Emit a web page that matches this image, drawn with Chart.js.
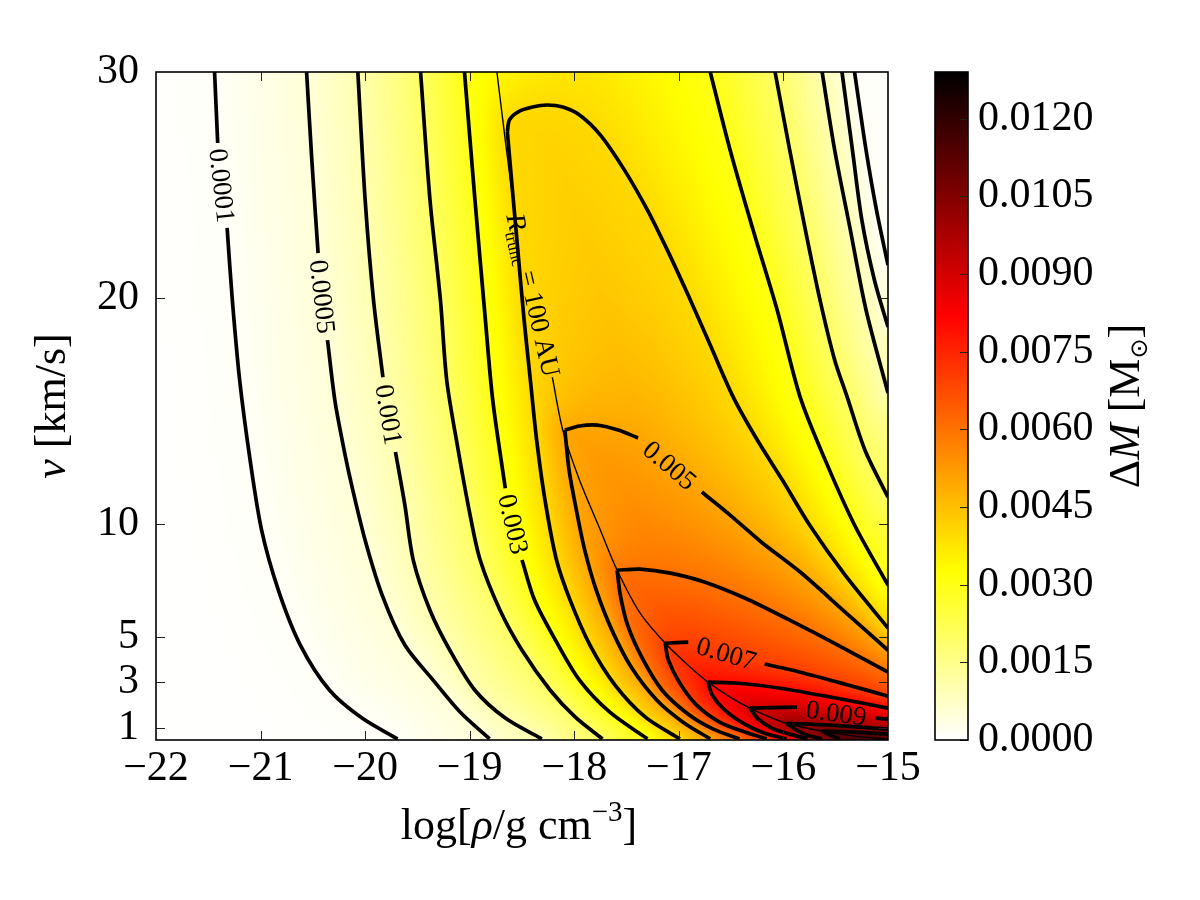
<!DOCTYPE html>
<html><head><meta charset="utf-8">
<script src="https://cdn.jsdelivr.net/npm/chart.js@4.4.1/dist/chart.umd.min.js"></script>
<style>
html,body{margin:0;padding:0;background:#fff;}
#wrap{position:relative;width:1200px;height:900px;}
#wrap canvas{position:absolute;left:0;top:0;}
</style>
</head><body>
<div id="wrap"><canvas id="main" width="1200" height="900"></canvas><canvas id="cbar" width="1200" height="900"></canvas></div>
<script>
// ---------- axis ranges and ticks ----------
const rhoMin = -22, rhoMax = -15;
const vMin = 0.45, vMax = 30;
const rhoTicks = [-22, -21, -20, -19, -18, -17, -16, -15];
const vTicks = [1, 3, 5, 10, 20, 30];
const dmMax = 0.0129;
const dmTicks = [0, 0.0015, 0.003, 0.0045, 0.006, 0.0075, 0.009, 0.0105, 0.012];

// ---------- contour levels (Delta M, solar masses) ----------
const levels = [0.0001, 0.0005, 0.001, 0.002, 0.003, 0.004, 0.005, 0.006, 0.007, 0.008, 0.009, 0.010, 0.011];
const levelText = ['0.0001', '0.0005', '0.001', '', '0.003', '', '0.005', '', '0.007', '', '0.009', '', ''];

// each contour: [log rho, v]; null = gap for inline label
// left branch (inside R_trunc) and right branch (outside R_trunc)
const c0001L = [[-21.44,30],[-21.41,26.86],null,[-21.32,23.10],[-21.27,19.91],[-21.20,16.37],[-21.10,12.83],[-20.99,9.73],[-20.83,7.08],[-20.62,4.65],[-20.34,2.65],[-20.03,1.42],[-19.69,0.5]];
const c0001R = [[-15.32,30],[-15.21,26.55],[-15.11,23.89],[-15.0,21.46]];
const c0005L = [[-20.56,30],[-20.51,26.11],[-20.45,21.99],null,[-20.36,18.14],[-20.29,15.49],[-20.22,13.72],[-20.14,11.95],[-20.00,9.29],[-19.83,6.77],[-19.62,4.65],[-19.35,3.10],[-19.09,1.68],[-18.81,0.5]];
const c0005R = [[-15.44,30],[-15.34,26.55],[-15.25,23.45],[-15.13,20.80],[-15.0,18.72]];
const c001L = [[-20.07,30],[-20.00,24.34],[-19.92,19.91],[-19.83,16.50],null,[-19.71,13.19],[-19.62,10.84],[-19.54,8.41],[-19.38,6.19],[-19.19,4.42],[-18.95,2.65],[-18.66,1.42],[-18.31,0.5]];
const c001R = [[-15.63,30],[-15.51,26.55],[-15.36,23.01],[-15.21,19.47],[-15.0,15.80]];
const c002L = [[-19.47,30],[-19.38,24.34],[-19.28,19.91],[-19.22,16.37],[-19.11,13.27],[-19.00,10.49],[-18.90,8.41],[-18.71,6.19],[-18.50,4.42],[-18.23,2.65],[-17.99,1.46],[-17.73,0.5]];
const c002R = [[-16.08,30],[-15.94,26.55],[-15.79,23.01],[-15.65,19.91],[-15.51,17.26],[-15.39,15.62],[-15.22,13.27],[-15.0,11.19]];
const c003L = [[-19.05,30],[-18.95,24.34],[-18.85,19.03],[-18.78,15.49],[-18.66,11.59],null,[-18.50,8.41],[-18.38,6.64],[-18.18,4.87],[-17.95,3.10],[-17.66,1.68],[-17.30,0.5]];
const c003R = [[-16.70,30],[-16.51,26.55],[-16.29,23.01],[-16.06,19.47],[-15.84,15.62],[-15.60,12.83],[-15.32,9.96],[-15.0,7.30]];
const c004L = [[-18.64,27.35],[-18.60,25.22],[-18.54,22.12],[-18.48,19.03],[-18.42,16.37],[-18.36,13.72],[-18.28,11.06],[-18.17,8.41],[-18.04,6.64],[-17.85,4.65],[-17.61,2.88],[-17.32,1.46],[-16.99,0.5]];
const c004R = [[-18.64,27.35],[-18.62,27.88],[-18.54,28.23],[-18.40,28.45],[-18.26,28.54],[-18.11,28.45],[-17.95,28.10],[-17.75,27.21],[-17.52,25.66],[-17.30,23.89],[-17.11,22.12],[-16.92,20.22],[-16.70,17.92],[-16.48,15.62],[-16.25,13.72],[-16.01,11.95],[-15.75,9.96],[-15.41,7.74],[-15.0,5.40]];
const c005L = [[-18.09,14.16],[-18.05,12.39],[-17.98,10.62],[-17.90,8.85],[-17.79,7.08],[-17.64,5.31],[-17.45,3.63],[-17.21,2.21],[-16.96,1.24],[-16.70,0.5]];
const c005R = [[-18.09,14.16],[-17.95,14.34],[-17.78,14.38],[-17.58,14.16],[-17.39,13.81],null,[-16.78,11.42],[-16.51,10.40],[-16.21,9.20],[-15.84,7.88],[-15.41,6.11],[-15.0,4.42]];
const c006L = [[-17.59,7.96],[-17.56,6.86],[-17.49,5.53],[-17.35,4.07],[-17.16,2.65],[-16.91,1.59],[-16.67,0.93],[-16.42,0.5]];
const c006R = [[-17.59,7.96],[-17.37,8.01],[-17.08,7.83],[-16.75,7.43],[-16.37,6.73],[-15.94,5.75],[-15.48,4.65],[-15.0,3.45]];
const c007L = [[-17.13,4.73],[-17.10,3.98],[-16.99,2.96],[-16.83,1.99],[-16.61,1.24],[-16.37,0.80],[-16.16,0.5]];
const c007R = [[-17.13,4.73],[-16.91,4.78],null,[-16.18,3.81],[-15.84,3.45],[-15.41,2.92],[-15.0,2.39]];
const c008L = [[-16.72,3.01],[-16.68,2.43],[-16.56,1.77],[-16.37,1.15],[-16.18,0.75],[-15.97,0.5]];
const c008R = [[-16.72,3.01],[-16.42,2.96],[-16.03,2.74],[-15.55,2.35],[-15.0,1.86]];
const c009L = [[-16.32,1.86],[-16.25,1.42],[-16.11,0.97],[-15.94,0.71],[-15.77,0.5]];
const c009R = [[-16.32,1.86],[-15.87,1.90],null,[-15.12,1.42],[-15.0,1.37]];
const c010L = [[-15.97,1.19],[-15.87,0.88],[-15.77,0.66],[-15.63,0.5]];
const c010R = [[-15.97,1.19],[-15.55,1.11],[-15.0,0.93]];
const c011L = [[-15.63,0.84],[-15.55,0.66],[-15.46,0.5]];
const c011R = [[-15.63,0.84],[-15.32,0.80],[-15.0,0.71]];

const contourLeft = [c0001L, c0005L, c001L, c002L, c003L, c004L, c005L, c006L, c007L, c008L, c009L, c010L, c011L];
const contourRight = [c0001R, c0005R, c001R, c002R, c003R, c004R, c005R, c006R, c007R, c008R, c009R, c010R, c011R];

// truncation radius line R_trunc = 100 AU
const rTrunc = [[-18.74,30],[-18.66,26.99],[-18.57,23.76],null,[-18.21,16.50],[-18.11,14.16],[-17.95,11.95],[-17.75,9.73],[-17.59,7.96],[-17.37,6.06],[-17.13,4.73],[-16.89,3.67],[-16.72,3.01],[-16.51,2.35],[-16.32,1.86],[-16.13,1.46],[-15.97,1.19],[-15.63,0.84],[-15.32,0.62],[-15.0,0.49]];

// ---------- helpers ----------
const SERIF = "'Liberation Serif', 'DejaVu Serif', serif";
function hotR(val) {
  const t = 1 - Math.min(1, Math.max(0, val / dmMax));
  const r = Math.min(1, t / 0.365079);
  const g = Math.min(1, Math.max(0, (t - 0.365079) / 0.380953));
  const b = Math.min(1, Math.max(0, (t - 0.746032) / 0.253968));
  return [Math.round(r * 255), Math.round(g * 255), Math.round(b * 255)];
}
function toXY(pts) { return pts.map(p => p ? {x: p[0], y: p[1]} : {x: null, y: null}); }
function drawRich(ctx, parts, cx, cy, angle, base) {
  ctx.save(); ctx.translate(cx, cy); ctx.rotate(angle);
  ctx.textBaseline = 'alphabetic'; ctx.textAlign = 'left'; ctx.fillStyle = '#000';
  let total = 0;
  for (const p of parts) { ctx.font = p.font; p.w = ctx.measureText(p.t).width; total += p.w; }
  let x = -total / 2;
  for (const p of parts) { ctx.font = p.font; ctx.fillText(p.t, x, base + (p.dy || 0)); x += p.w; }
  ctx.restore();
}
function segDist(segs, x, y) {
  let best = Infinity;
  for (let j = 0; j < segs.length; j += 4) {
    const x1 = segs[j], y1 = segs[j + 1], dx = segs[j + 2] - x1, dy = segs[j + 3] - y1;
    const l2 = dx * dx + dy * dy;
    let t = l2 > 0 ? ((x - x1) * dx + (y - y1) * dy) / l2 : 0;
    t = t < 0 ? 0 : (t > 1 ? 1 : t);
    const ex = x1 + t * dx - x, ey = y1 + t * dy - y;
    const d = ex * ex + ey * ey;
    if (d < best) best = d;
  }
  return Math.sqrt(best);
}

// ---------- shaded field built from the contour data through the chart scales ----------
function buildField(chart) {
  const xs = chart.scales.x, ys = chart.scales.y, a = chart.chartArea;
  const W = Math.round(a.right - a.left), H = Math.round(a.bottom - a.top);
  const px = p => [xs.getPixelForValue(p[0]) - a.left, ys.getPixelForValue(p[1]) - a.top];
  const n = levels.length;
  const lines = levels.map((L, i) => ({
    left: contourLeft[i].filter(Boolean).map(px),
    right: contourRight[i].filter(Boolean).map(px)
  }));
  const off = document.createElement('canvas'); off.width = W; off.height = H;
  const oc = off.getContext('2d');
  oc.fillStyle = '#000'; oc.fillRect(0, 0, W, H);
  lines.forEach((ln, i) => {
    const poly = ln.left.slice().reverse().concat(ln.right)
      .map(([x, y]) => [x >= W - 0.5 ? W + 6 : x, y <= 0.5 ? -6 : y]);
    oc.beginPath();
    oc.moveTo(poly[0][0], H + 6);
    poly.forEach(p => oc.lineTo(p[0], p[1]));
    oc.lineTo(W + 6, poly[poly.length - 1][1]);
    oc.lineTo(W + 6, H + 6);
    oc.closePath();
    oc.fillStyle = 'rgb(' + ((i + 1) * 16) + ',0,0)';
    oc.fill();
  });
  const band = oc.getImageData(0, 0, W, H).data;
  const segs = lines.map(ln => {
    const arr = [];
    [ln.left, ln.right].forEach(pl => { for (let j = 0; j + 1 < pl.length; j++) arr.push(pl[j][0], pl[j][1], pl[j + 1][0], pl[j + 1][1]); });
    return new Float64Array(arr);
  });
  const img = oc.createImageData(W, H); const d = img.data;
  for (let y = 0; y < H; y++) {
    for (let x = 0; x < W; x++) {
      const o = (y * W + x) * 4;
      const k = Math.round(band[o] / 16);
      const cx = x + 0.5, cy = y + 0.5;
      let val;
      if (k <= 0) { const dh = segDist(segs[0], cx, cy); val = levels[0] * Math.exp(-dh / 60); }
      else if (k >= n) { const dl = segDist(segs[n - 1], cx, cy); val = levels[n - 1] + 0.0018 * Math.min(1, dl / 35); }
      else {
        const dl = segDist(segs[k - 1], cx, cy), dh = segDist(segs[k], cx, cy);
        val = levels[k - 1] + (levels[k] - levels[k - 1]) * dl / (dl + dh + 1e-9);
      }
      const c = hotR(val);
      d[o] = c[0]; d[o + 1] = c[1]; d[o + 2] = c[2]; d[o + 3] = 255;
    }
  }
  oc.putImageData(img, 0, 0);
  return off;
}

const fieldPlugin = {
  id: 'field',
  beforeDatasetsDraw(chart) {
    const a = chart.chartArea;
    if (!chart.$field) chart.$field = buildField(chart);
    chart.ctx.drawImage(chart.$field, Math.round(a.left), Math.round(a.top));
  }
};

const labelPlugin = {
  id: 'clabels',
  afterDatasetsDraw(chart) {
    const ctx = chart.ctx, xs = chart.scales.x, ys = chart.scales.y;
    const P = p => [xs.getPixelForValue(p[0]), ys.getPixelForValue(p[1])];
    ctx.save();
    ctx.beginPath(); ctx.rect(chart.chartArea.left, chart.chartArea.top, chart.chartArea.right - chart.chartArea.left, chart.chartArea.bottom - chart.chartArea.top); ctx.clip();
    levels.forEach((L, i) => {
      if (!levelText[i]) return;
      [contourLeft[i], contourRight[i]].forEach(arr => {
        const g = arr.indexOf(null);
        if (g <= 0) return;
        const p1 = P(arr[g - 1]), p2 = P(arr[g + 1]);
        const ang = Math.atan2(p2[1] - p1[1], p2[0] - p1[0]);
        drawRich(ctx, [{t: levelText[i], font: '27px ' + SERIF}], (p1[0] + p2[0]) / 2, (p1[1] + p2[1]) / 2, ang, 9);
      });
    });
    const g = rTrunc.indexOf(null);
    const q1 = P(rTrunc[g - 1]), q2 = P(rTrunc[g + 1]);
    const ang = Math.atan2(q2[1] - q1[1], q2[0] - q1[0]);
    drawRich(ctx, [
      {t: 'R', font: 'italic 27px ' + SERIF},
      {t: 'trunc', font: '17px ' + SERIF, dy: 5},
      {t: ' = 100 AU', font: '27px ' + SERIF}
    ], (q1[0] + q2[0]) / 2, (q1[1] + q2[1]) / 2, ang, 9);
    ctx.restore();
  }
};

const framePlugin = {
  id: 'frame',
  afterDraw(chart) {
    const ctx = chart.ctx, a = chart.chartArea, xs = chart.scales.x, ys = chart.scales.y;
    ctx.save();
    ctx.strokeStyle = '#222'; ctx.lineWidth = 1;
    const tl = 9;
    rhoTicks.forEach(t => {
      if (t === rhoMin || t === rhoMax) return;
      const x = Math.round(xs.getPixelForValue(t)) + 0.5;
      ctx.beginPath(); ctx.moveTo(x, a.bottom); ctx.lineTo(x, a.bottom - tl); ctx.moveTo(x, a.top); ctx.lineTo(x, a.top + tl); ctx.stroke();
    });
    vTicks.forEach(t => {
      if (t >= vMax) return;
      const y = Math.round(ys.getPixelForValue(t)) + 0.5;
      ctx.beginPath(); ctx.moveTo(a.left, y); ctx.lineTo(a.left + tl, y); ctx.moveTo(a.right, y); ctx.lineTo(a.right - tl, y); ctx.stroke();
    });
    ctx.strokeStyle = '#000'; ctx.lineWidth = 1.6;
    ctx.strokeRect(a.left, a.top, a.right - a.left, a.bottom - a.top);
    // axis titles
    drawRich(ctx, [
      {t: 'log[', font: '44px ' + SERIF},
      {t: 'ρ', font: 'italic 44px ' + SERIF},
      {t: '/g cm', font: '44px ' + SERIF},
      {t: '\u22123', font: '29px ' + SERIF, dy: -18},
      {t: ']', font: '44px ' + SERIF}
    ], (a.left + a.right) / 2 - 3, 824, 0, 15);
    drawRich(ctx, [
      {t: 'v', font: 'italic 44px ' + SERIF},
      {t: ' [km/s]', font: '44px ' + SERIF}
    ], 50, (a.top + a.bottom) / 2, -Math.PI / 2, 15);
    ctx.restore();
  }
};

const fmtRho = v => (v < 0 ? '\u2212' + Math.abs(v) : String(v));

const datasets = [];
contourLeft.forEach(pts => datasets.push({data: toXY(pts), showLine: true, borderColor: '#000', borderWidth: 3.7, pointRadius: 0, pointHoverRadius: 0, tension: 0.3, fill: false, spanGaps: false}));
contourRight.forEach(pts => datasets.push({data: toXY(pts), showLine: true, borderColor: '#000', borderWidth: 3.7, pointRadius: 0, pointHoverRadius: 0, tension: 0.3, fill: false, spanGaps: false}));
datasets.push({data: toXY(rTrunc), showLine: true, borderColor: '#000', borderWidth: 1.4, pointRadius: 0, pointHoverRadius: 0, tension: 0.3, fill: false, spanGaps: false});

new Chart(document.getElementById('main'), {
  type: 'scatter',
  data: {datasets},
  options: {
    responsive: false, animation: false, devicePixelRatio: 1, events: [],
    layout: {padding: {left: 0, top: 72, right: 312, bottom: 0}},
    plugins: {legend: {display: false}, tooltip: {enabled: false}},
    scales: {
      x: {
        type: 'linear', min: rhoMin, max: rhoMax,
        grid: {display: false}, border: {display: false},
        afterBuildTicks: ax => { ax.ticks = rhoTicks.map(v => ({value: v})); },
        afterFit: s => { s.height = 160; },
        ticks: {callback: fmtRho, color: '#000', padding: -4, maxRotation: 0, minRotation: 0, autoSkip: false, font: {family: SERIF, size: 42}}
      },
      y: {
        type: 'linear', min: vMin, max: vMax,
        grid: {display: false}, border: {display: false},
        afterBuildTicks: ax => { ax.ticks = vTicks.map(v => ({value: v})); },
        afterFit: s => { s.width = 156; },
        ticks: {callback: v => String(v), color: '#000', padding: 9, autoSkip: false, font: {family: SERIF, size: 42}}
      }
    }
  },
  plugins: [fieldPlugin, labelPlugin, framePlugin]
});

// ---------- colour bar ----------
const cbarPlugin = {
  id: 'cbarFill',
  beforeDatasetsDraw(chart) {
    const ctx = chart.ctx, a = chart.chartArea, ys = chart.scales.y;
    for (let y = Math.floor(a.top); y < Math.ceil(a.bottom); y++) {
      const c = hotR(ys.getValueForPixel(y + 0.5));
      ctx.fillStyle = 'rgb(' + c.join(',') + ')';
      ctx.fillRect(a.left, y, a.right - a.left, 1);
    }
  },
  afterDraw(chart) {
    const ctx = chart.ctx, a = chart.chartArea, ys = chart.scales.y;
    ctx.save();
    ctx.strokeStyle = '#222'; ctx.lineWidth = 1;
    dmTicks.forEach(t => {
      const y = Math.round(ys.getPixelForValue(t)) + 0.5;
      ctx.beginPath(); ctx.moveTo(a.right, y); ctx.lineTo(a.right - 8, y); ctx.stroke();
    });
    ctx.strokeStyle = '#000'; ctx.lineWidth = 1.6;
    ctx.strokeRect(a.left, a.top, a.right - a.left, a.bottom - a.top);
    drawRich(ctx, [
      {t: '\u0394', font: '44px ' + SERIF},
      {t: 'M', font: 'italic 44px ' + SERIF},
      {t: ' [M', font: '44px ' + SERIF},
      {t: '\u2299', font: "24px 'DejaVu Sans'", dy: 8},
      {t: ']', font: '44px ' + SERIF}
    ], 1124, (a.top + a.bottom) / 2, -Math.PI / 2, 15);
    ctx.restore();
  }
};

new Chart(document.getElementById('cbar'), {
  type: 'scatter',
  data: {datasets: [{data: [], pointRadius: 0}]},
  options: {
    responsive: false, animation: false, devicePixelRatio: 1, events: [],
    layout: {padding: {left: 935, top: 72, right: 0, bottom: 160}},
    plugins: {legend: {display: false}, tooltip: {enabled: false}},
    scales: {
      x: {display: false, min: 0, max: 1},
      y: {
        type: 'linear', position: 'right', min: 0, max: dmMax,
        grid: {display: false}, border: {display: false},
        afterBuildTicks: ax => { ax.ticks = dmTicks.map(v => ({value: v})); },
        afterFit: s => { s.width = 232; },
        ticks: {callback: v => v.toFixed(4), color: '#000', padding: 2, autoSkip: false, font: {family: SERIF, size: 42}}
      }
    }
  },
  plugins: [cbarPlugin]
});
</script>
</body></html>
